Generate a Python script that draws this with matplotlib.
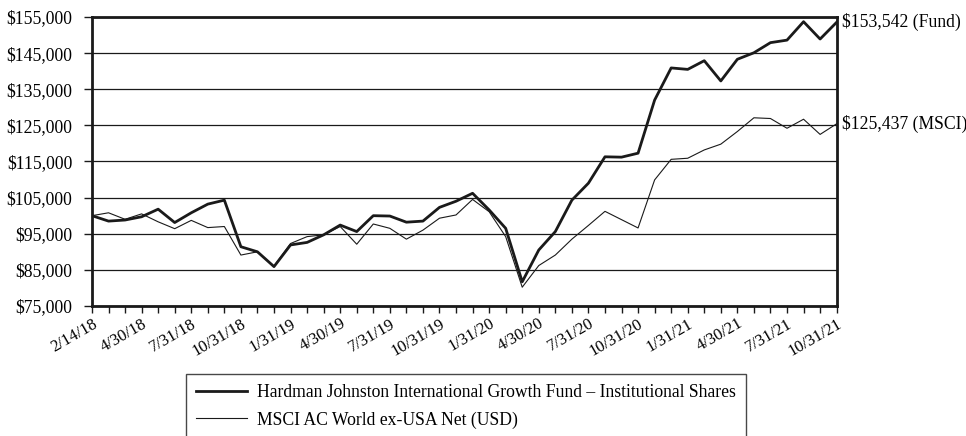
import numpy as np
import matplotlib.pyplot as plt
from matplotlib.ticker import FuncFormatter

plt.rcParams['font.family'] = ['Liberation Serif', 'DejaVu Serif']

# month-end dates, first point is the inception date
dates = ['2/14/18', '2/28/18', '3/31/18', '4/30/18', '5/31/18', '6/30/18', '7/31/18',
         '8/31/18', '9/30/18', '10/31/18', '11/30/18', '12/31/18', '1/31/19', '2/28/19',
         '3/31/19', '4/30/19', '5/31/19', '6/30/19', '7/31/19', '8/31/19', '9/30/19',
         '10/31/19', '11/30/19', '12/31/19', '1/31/20', '2/29/20', '3/31/20', '4/30/20',
         '5/31/20', '6/30/20', '7/31/20', '8/31/20', '9/30/20', '10/31/20', '11/30/20',
         '12/31/20', '1/31/21', '2/28/21', '3/31/21', '4/30/21', '5/31/21', '6/30/21',
         '7/31/21', '8/31/21', '9/30/21', '10/31/21']

fund = [100000, 98500, 98800, 99700, 101800, 98100, 100800, 103200, 104300, 91400,
        90000, 85900, 91900, 92600, 94700, 97400, 95600, 100000, 99900, 98200,
        98500, 102300, 104000, 106200, 101600, 96500, 81700, 90500, 95600, 104300,
        109000, 116300, 116200, 117300, 132000, 140900, 140500, 142900, 137300, 143300,
        145100, 147900, 148600, 153700, 148900, 153542]

msci = [100000, 100800, 99000, 100500, 98300, 96400, 98700, 96700, 97000, 89100,
        90000, 86000, 92300, 94200, 94700, 97000, 92100, 97700, 96500, 93500,
        96000, 99300, 100200, 104500, 101100, 94200, 80200, 86200, 89100, 93500,
        97300, 101200, 98900, 96600, 109900, 115600, 115900, 118200, 119800, 123300,
        127100, 126900, 124200, 126700, 122500, 125437]

x = np.arange(len(dates))

fig = plt.figure(figsize=(9.66, 4.36), dpi=100)
ax = fig.add_axes([0.0952, 0.2982, 0.7709, 0.6628])

ax.plot(x, fund, color='#1a1a1a', lw=2.0, label='Hardman Johnston International Growth Fund \u2013 Institutional Shares')
ax.plot(x, msci, color='#1a1a1a', lw=0.8, label='MSCI AC World ex-USA Net (USD)')

ax.set_xlim(0, len(dates) - 1)
ax.set_ylim(75000, 155000)
ax.set_yticks(np.arange(75000, 155001, 10000))
ax.yaxis.set_major_formatter(FuncFormatter(lambda v, p: '${:,.0f}'.format(v)))
ax.grid(axis='y', color='#1a1a1a', lw=0.9)
ax.set_axisbelow(True)

ax.set_xticks(x)
ax.set_xticklabels([d if i % 3 == 0 else '' for i, d in enumerate(dates)],
                   rotation=30, ha='right', rotation_mode='anchor')
ax.tick_params(axis='both', direction='out', width=1, color='#1a1a1a')
ax.tick_params(axis='y', length=6, pad=8, labelsize=12.7)
ax.tick_params(axis='x', length=5, pad=2, labelsize=12)

for s in ax.spines.values():
    s.set_linewidth(2.0)
    s.set_color('#1a1a1a')

ax.annotate('${:,.0f} (Fund)'.format(fund[-1]), xy=(x[-1], fund[-1]), xytext=(4, 0),
            textcoords='offset points', va='center', ha='left', fontsize=12.7,
            annotation_clip=False)
ax.annotate('${:,.0f} (MSCI)'.format(msci[-1]), xy=(x[-1], msci[-1]), xytext=(4, 0),
            textcoords='offset points', va='center', ha='left', fontsize=12.7,
            annotation_clip=False)

leg = fig.legend(loc='upper left', bbox_to_anchor=(186 / 966, 1 - 374 / 436),
                 borderaxespad=0, fontsize=12.7, frameon=True, fancybox=False,
                 edgecolor='#1a1a1a', handlelength=2.9, handletextpad=0.6,
                 borderpad=0.55, labelspacing=0.6)
leg.get_frame().set_linewidth(1.0)

fig.savefig('out.png', dpi=100)
